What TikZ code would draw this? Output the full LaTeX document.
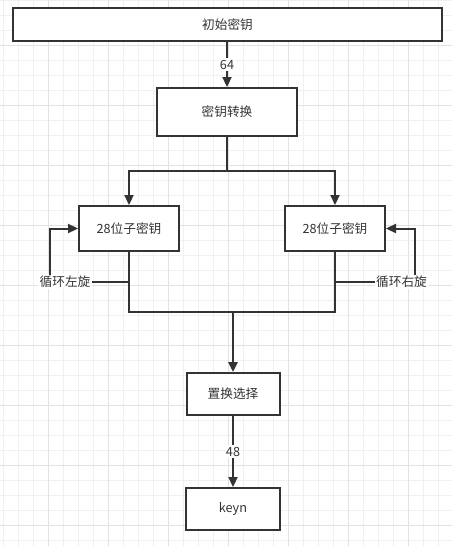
\documentclass[tikz,border=0pt]{standalone}
\usepackage{fontspec}
\newfontfamily\cjk{Noto Sans CJK SC}
\usetikzlibrary{arrows.meta}
\definecolor{minorgrid}{HTML}{F0F0F0}
\definecolor{majorgrid}{HTML}{E2E2E2}
\definecolor{ink}{HTML}{333333}
\begin{document}
\begin{tikzpicture}[x=0.75pt, y=-0.75pt, >={Triangle[length=7.5pt,width=6.8pt]},
  box/.style={draw=ink, line width=1.5pt, fill=white, inner sep=0pt, text=ink},
  conn/.style={draw=ink, line width=1.5pt},
  trunk/.style={draw=ink, line width=2.2pt},
  lab/.style={fill=white, text=ink, inner sep=1pt},
  font=\cjk\fontsize{9.5}{11}\selectfont]
\useasboundingbox (0,0) rectangle (452,546);
\fill[white] (0,0) rectangle (452,546);

% grid
\foreach \x in {3,18,...,452}
{
    \draw[minorgrid, line width=0.75pt] (\x,0)--(\x,546);
}
\foreach \y in {0,15,...,546}
{
    \draw[minorgrid, line width=0.75pt] (0,\y)--(452,\y);
}
\foreach \x in {48,108,...,452}
{
    \draw[majorgrid, line width=0.75pt] (\x,0)--(\x,546);
}
\foreach \y in {45,105,...,546}
{
    \draw[majorgrid, line width=0.75pt] (0,\y)--(452,\y);
}

% boxes
\node[box, minimum width=321.75pt, minimum height=24.75pt] (init) at (227.5,24.5) {初始密钥};
\node[box, minimum width=105pt, minimum height=36pt] (trans) at (227,112) {密钥转换};
\node[box, minimum width=75pt, minimum height=33.75pt] (subL) at (129,228.5) {28位子密钥};
\node[box, minimum width=75pt, minimum height=33.75pt] (subR) at (335,228.5) {28位子密钥};
\node[box, minimum width=69.75pt, minimum height=31.5pt] (select) at (233,394) {置换选择};
\node[box, minimum width=70.5pt, minimum height=31.5pt] (keyn) at (233,509) {keyn};

% rotation labels
\node[lab] (rotL) at (65,281.5) {循环左旋};
\node[lab] (rotR) at (401.5,281.5) {循环右旋};
\coordinate (upL) at (50,275);
\coordinate (upR) at (415,275);

% connectors
\draw[conn,->] (trans.north |- init.south) -- node[lab]{64} (trans.north);
\coordinate (split) at (227,171);
\draw[trunk] (trans.south) -- (split);
\draw[conn,->] (split) -| (subL.north);
\draw[conn,->] (split) -| (subR.north);

\draw[conn] (subL.south |- rotL) -- (rotL.east);
\draw[conn] (subR.south |- rotR) -- (rotR.west);
\draw[conn,->] (upL) |- (subL.west);
\draw[conn,->] (upR) |- (subR.east);

\coordinate (merge) at (233,312);
\draw[conn] (subL.south) |- (merge);
\draw[conn] (subR.south) |- (merge);
\draw[trunk,->] (merge) -- (select.north);
\draw[conn,->] (select.south) -- node[lab]{48} (keyn.north);

\end{tikzpicture}
\end{document}
